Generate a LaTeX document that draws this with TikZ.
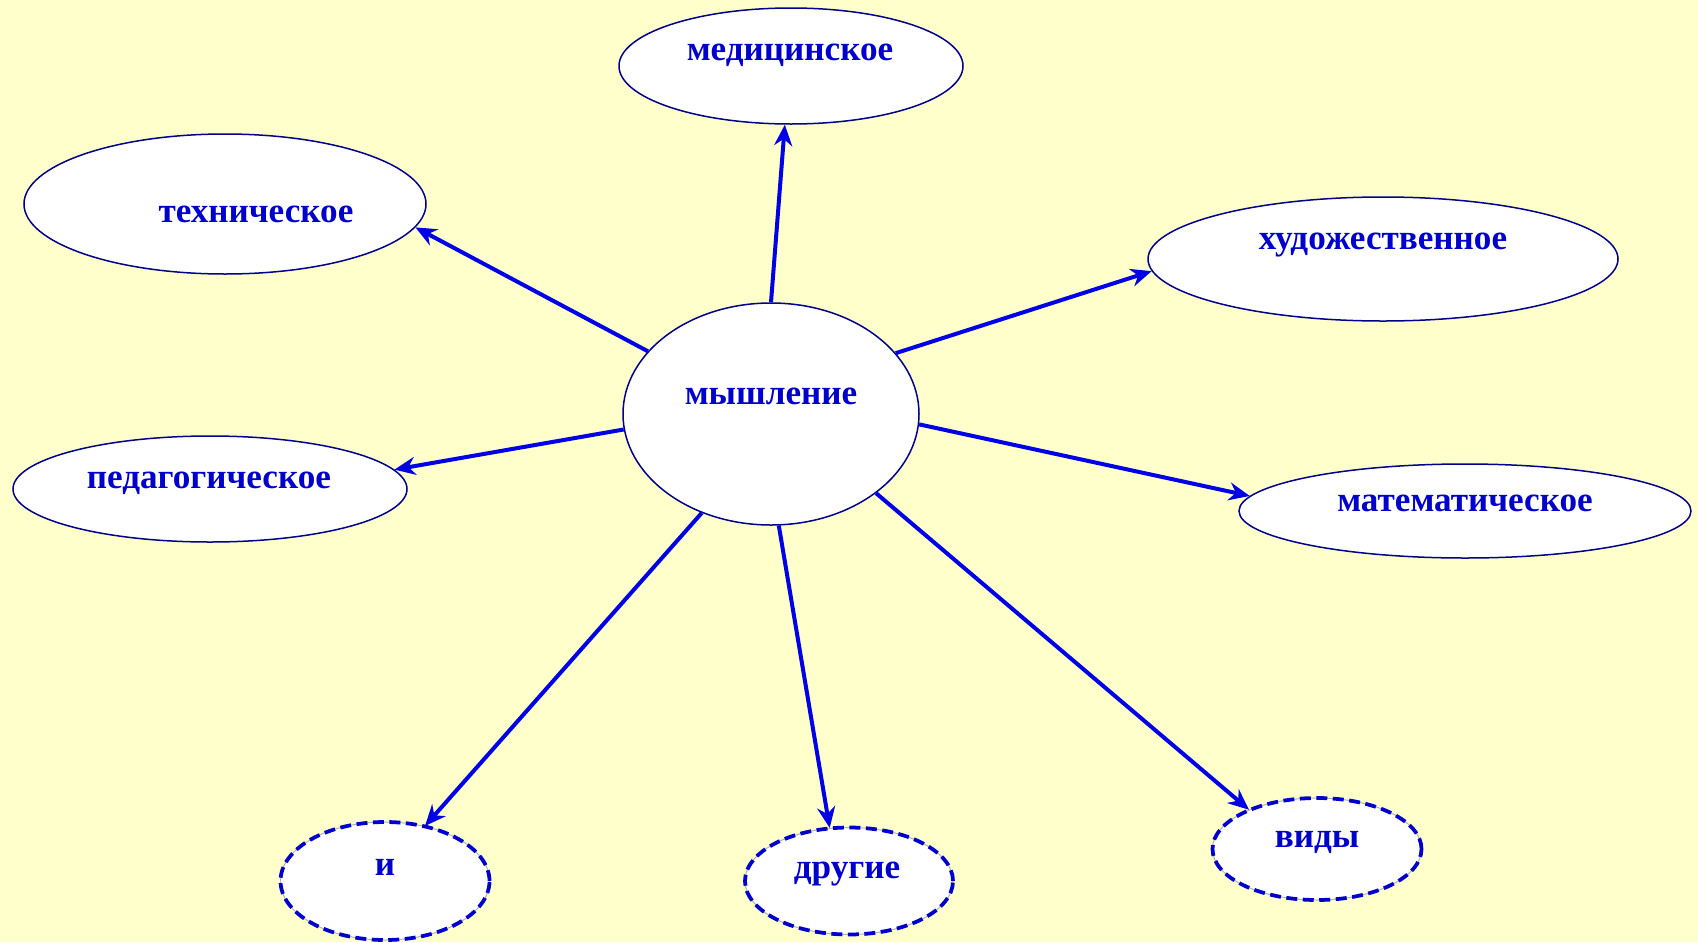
\documentclass[tikz,border=0pt]{standalone}
\usepackage{fontspec}
\setmainfont{Liberation Serif}
\usetikzlibrary{shapes.geometric}
\usetikzlibrary{arrows.meta}

\definecolor{paper}{RGB}{255,255,204}
\definecolor{ink}{RGB}{0,0,204}
\definecolor{rim}{RGB}{0,0,140}
\definecolor{arrowblue}{RGB}{0,0,230}

\tikzset{
  oval/.style={ellipse, draw=rim, line width=0.3mm, fill=white, inner sep=0pt},
  dashoval/.style={ellipse, draw=gray!60, line width=0.2mm, fill=white, inner sep=0pt,
    postaction={draw=ink, line width=0.75mm, dash pattern=on 2.2mm off 1.1mm}},
  word/.style={font=\fontsize{20}{22}\selectfont\bfseries, text=ink,
    text height=1ex, text depth=0pt, inner sep=0pt},
  ray/.style={draw=arrowblue, line width=0.8mm, -{Stealth[length=4.2mm,width=3.6mm]}}
}

\begin{document}
\begin{tikzpicture}[x=0.2mm, y=-0.2mm]
  \useasboundingbox (0,0) rectangle (1698,942);
  \fill[paper] (0,0) rectangle (1698,942);

  % ellipses
  \node[oval, minimum width=68.8mm, minimum height=23.2mm] (med) at (791,66) {};
  \node[oval, minimum width=80.4mm, minimum height=28mm] (tech) at (225,204) {};
  \node[oval, minimum width=94mm, minimum height=24.8mm] (art) at (1383,259) {};
  \node[oval, minimum width=59.2mm, minimum height=44.4mm] (core) at (771,414) {};
  \node[oval, minimum width=78.8mm, minimum height=21.2mm] (ped) at (210,489) {};
  \node[oval, minimum width=90.4mm, minimum height=18.8mm] (math) at (1465,511) {};
  \node[dashoval, minimum width=41.8mm, minimum height=23.6mm] (and) at (385,881) {};
  \node[dashoval, minimum width=41.6mm, minimum height=21.4mm] (other) at (849,881) {};
  \node[dashoval, minimum width=41.8mm, minimum height=20.4mm] (kinds) at (1317,849) {};

  % texts
  \node[word] (med-t) at (790,56) {медицинское};
  \node[word] (tech-t) at (256,218) {техническое};
  \node[word] (art-t) at (1383,245) {художественное};
  \node[word] (core-t) at (771,400) {мышление};
  \node[word] (ped-t) at (209,484) {педагогическое};
  \node[word] (math-t) at (1465,507) {математическое};
  \node[word] (and-t) at (385,871) {и};
  \node[word] (other-t) at (847,874) {другие};
  \node[word] (kinds-t) at (1317,843) {виды};

  % arrows
  \draw[ray] (core.90) -- (med.-96);
  \draw[ray] (core.153) -- (tech.-7);
  \draw[ray] (core.26) -- (art.183);
  \draw[ray] (core.186) -- (ped.6);
  \draw[ray] (core.-4.5) -- (math.176);
  \draw[ray] (core.-125) -- (and.54);
  \draw[ray] (core.-86) -- (other.110);
  \draw[ray] (core.-37) -- (kinds.150);
\end{tikzpicture}
\end{document}
